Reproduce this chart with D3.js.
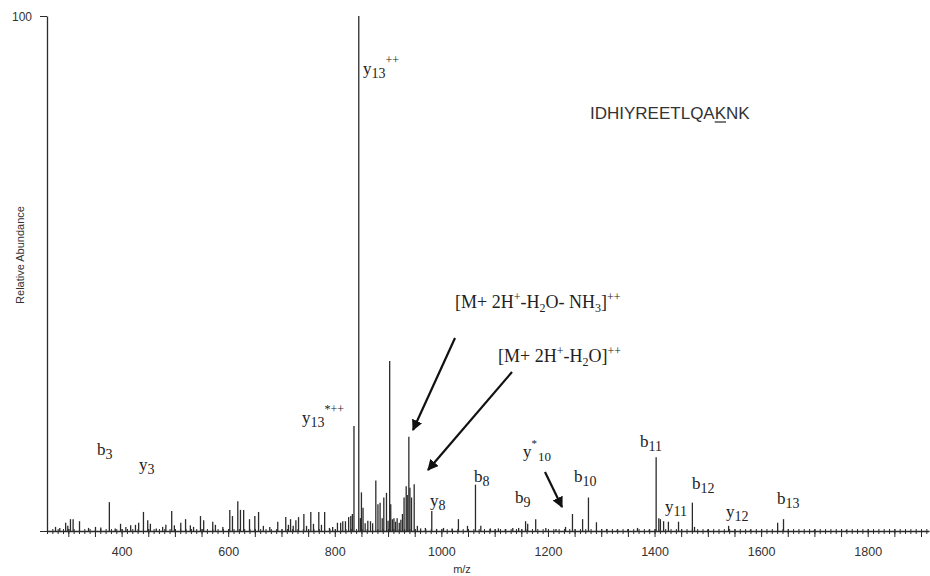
<!DOCTYPE html>
<html><head><meta charset="utf-8">
<script src="https://cdn.jsdelivr.net/npm/d3@7"></script>
<style>body{margin:0;background:#fff}svg{display:block}</style>
</head><body><svg id="c" width="930" height="576"></svg>
<script>
// ---- data ----
const mz = [276,284,295,299,304,309,321,338,351,361,377,388,398,408,417,426,432,441,449,454,465,477,483,494,499,511,520,529,535,548,554,571,576,590,603,608,618,623,629,640,650,657,666,678,693,708,713,717,722,727,732,742,747,755,760,770,775,781,790,796,805,811,815,820,826,830,833,836,845,848,850,853,857,862,867,871,877,881,885,889,892,897,900,903,905,908,911,914,917,921,924,927,930,934,936,939,941,944,949,955,961,970,982,991,1004,1020,1032,1049,1064,1074,1092,1107,1120,1134,1145,1158,1162,1177,1196,1215,1233,1246,1265,1276,1291,1310,1330,1350,1368,1390,1403,1408,1411,1417,1426,1445,1471,1475,1500,1539,1580,1631,1642,1700,1760];
const intensity = [0.8,0.6,1.6,1.0,2.3,2.3,1.9,0.6,0.8,0.7,5.6,0.5,1.4,0.8,1.1,1.2,1.6,3.7,2.1,1.4,0.5,0.8,1.2,3.9,1.1,1.6,2.3,1.1,0.8,2.9,2.1,1.8,1.2,0.8,4.1,2.9,5.8,4.1,4.1,2.3,2.9,3.7,1.0,0.8,1.8,2.7,1.2,2.3,1.0,2.1,2.7,3.3,1.0,3.7,1.4,3.7,1.2,3.7,0.6,0.8,1.6,1.6,1.9,1.9,2.7,2.9,3.3,20.4,100,2.5,7.5,4.5,1.5,2.0,1.9,1.5,9.8,5.2,5.5,2.5,6.5,7.4,2.0,33,5.2,2.3,2.5,1.8,2.5,1.6,2.2,3.3,6.5,8.7,7.0,18.3,8.4,6.5,9.1,1.0,0.5,0.6,3.9,0.4,0.6,0.5,2.3,1.0,9.0,1.0,0.5,0.5,0.4,0.6,0.6,1.9,1.4,2.3,0.6,0.4,0.8,3.3,2.3,6.5,1.7,0.4,0.3,0.4,0.6,0.3,14.3,2.5,2.3,1.9,1.8,1.8,5.5,0.8,0.3,1.0,0.3,1.6,2.3,0.2,0.2];
const xTicks = [400,600,800,1000,1200,1400,1600,1800];
const yTicks = [0,100];
const xDomain = [260,1915];
const sequence = "IDHIYREETLQAKNK";
const modifiedIndex = 12; // underlined K
// ion labels: [main, subscript, superscript, peak m/z]
const ionLabels = [
  ["b","3","",377],["y","3","",441],["y","13","*++",836],["y","13","++",845],
  ["y","8","",982],["b","8","",1064],["b","9","",1158],["y","10","*",1246],
  ["b","10","",1276],["b","11","",1403],["y","11","",1426],["b","12","",1471],
  ["y","12","",1539],["b","13","",1642]
];

// ---- layout ----
const svg = d3.select("#c");
const x = d3.scaleLinear().domain(xDomain).range([47,929]);
const y = d3.scaleLinear().domain([0,100]).range([531,16]);
const ink = "#2b2b2b";
const sans = "'Liberation Sans', Arial, sans-serif";
const serif = "'Liberation Serif', 'Times New Roman', serif";

// peaks
svg.append("g").selectAll("line").data(d3.zip(mz,intensity)).join("line")
  .attr("x1",d=>x(d[0])).attr("x2",d=>x(d[0]))
  .attr("y1",y(0)).attr("y2",d=>y(d[1]))
  .attr("stroke",ink).attr("stroke-width",1.3);

// x axis: minor ticks every 10, medium every 50
const minorAx = d3.axisBottom(x).tickValues(d3.range(260,1915,10)).tickSize(5).tickFormat("");
const gMin = svg.append("g").attr("transform","translate(0,529)").call(minorAx);
gMin.select(".domain").remove();
const medAx = d3.axisBottom(x).tickValues(d3.range(300,1915,50)).tickSize(8).tickFormat("");
const gMed = svg.append("g").attr("transform","translate(0,529)").call(medAx);
gMed.select(".domain").remove();
const xAx = d3.axisBottom(x).tickValues(xTicks).tickSize(0).tickSizeOuter(0).tickPadding(16)
  .tickFormat(d3.format("d"));
const gx = svg.append("g").attr("transform","translate(0,531)").call(xAx);
svg.selectAll("g .tick line").attr("stroke",ink);
gx.select(".domain").attr("stroke",ink).attr("stroke-width",1.3);
gx.selectAll("text").attr("font-family",sans).attr("font-size",12.5).attr("fill","#333");

// y axis
const yAx = d3.axisLeft(y).tickValues(yTicks).tickSize(7).tickSizeOuter(0).tickPadding(8)
  .tickFormat(d=>d===100?"100":"");
const gy = svg.append("g").attr("transform","translate(47,0)").call(yAx);
gy.select(".domain").attr("stroke",ink).attr("stroke-width",1.3);
gy.selectAll(".tick line").attr("stroke",ink);
gy.selectAll("text").attr("font-family",sans).attr("font-size",12).attr("fill","#333").attr("dy","0.35em");

// axis titles
svg.append("text").attr("x",462).attr("y",573).attr("text-anchor","middle")
  .attr("font-family",sans).attr("font-size",11).attr("fill","#333").text("m/z");
svg.append("text").attr("transform","translate(24,255) rotate(-90)").attr("text-anchor","middle")
  .attr("font-family",sans).attr("font-size",11).attr("fill","#333").text("Relative Abundance");

// sequence
const seq = svg.append("text").attr("x",590).attr("y",119)
  .attr("font-family",sans).attr("font-size",17).attr("fill","#333").text(sequence);
{
  const n = seq.node();
  const s = n.getStartPositionOfChar(modifiedIndex), e = n.getEndPositionOfChar(modifiedIndex);
  svg.append("line").attr("x1",s.x).attr("x2",e.x).attr("y1",122).attr("y2",122)
    .attr("stroke","#333").attr("stroke-width",1.3);
}

// ion label positions (label start, baseline)
const labelPos = {
  "b3":[97,455],"y3":[139,470],"y13*++":[302,423],"y13++":[363,74],"y8":[430,506],
  "b8":[474,482],"b9":[515,503],"y10*":[523,457],"b10":[574,482],"b11":[640,447],
  "y11":[665,512],"b12":[692,489],"y12":[726,517],"b13":[777,504]
};
ionLabels.forEach(([m,sub,sup])=>{
  const key = m+sub+sup;
  const p = labelPos[key];
  const t = svg.append("text").attr("x",p[0]).attr("y",p[1])
    .attr("font-family",serif).attr("font-size",17).attr("fill","#222");
  t.append("tspan").text(m);
  if (sup==="*") {
    t.append("tspan").attr("font-size",11).attr("dy",-10).text("*");
    t.append("tspan").attr("font-size",13).attr("dy",14).attr("dx",1).text(sub);
  } else {
    t.append("tspan").attr("font-size",14).attr("dy",4).text(sub);
    if (sup) t.append("tspan").attr("font-size",12).attr("dy",-14).text(sup);
  }
});

// precursor labels
function richText(xp, yp, parts){
  const t = svg.append("text").attr("x",xp).attr("y",yp)
    .attr("font-family",serif).attr("font-size",18).attr("fill","#222");
  let cur = 0;
  parts.forEach(([txt,kind])=>{
    const off = kind==="sup"?-7:kind==="sub"?4:0;
    t.append("tspan").attr("dy",off-cur).attr("font-size",kind?12:18).text(txt);
    cur = off;
  });
}
richText(455,308,[["[M+ 2H",""],["+","sup"],["-H",""],["2","sub"],["O- NH",""],["3","sub"],["]",""],["++","sup"]]);
richText(498,362,[["[M+ 2H",""],["+","sup"],["-H",""],["2","sub"],["O]",""],["++","sup"]]);

// arrows
svg.append("defs").append("marker").attr("id","ah").attr("viewBox","0 0 10 10")
  .attr("refX",9).attr("refY",5).attr("markerWidth",5).attr("markerHeight",5)
  .attr("orient","auto").append("path").attr("d","M0,0L10,5L0,10z").attr("fill","#111");
const arrows = [[[455,338],[413,430]],[[512,372],[428,470]],[[545,472],[562,507]]];
svg.append("g").selectAll("line").data(arrows).join("line")
  .attr("x1",d=>d[0][0]).attr("y1",d=>d[0][1]).attr("x2",d=>d[1][0]).attr("y2",d=>d[1][1])
  .attr("stroke","#111").attr("stroke-width",2.2).attr("marker-end","url(#ah)");
</script>
</body></html>
